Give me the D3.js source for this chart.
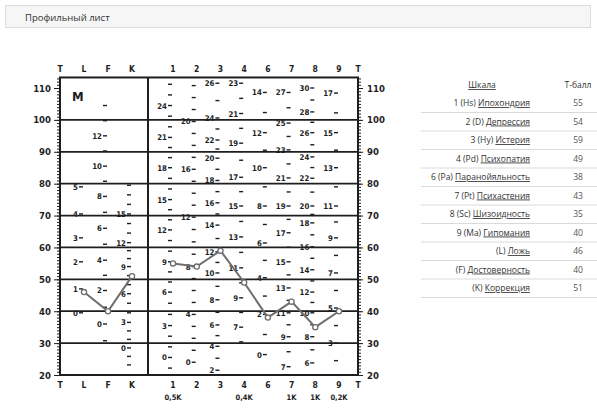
<!DOCTYPE html>
<html><head><meta charset="utf-8">
<script src="https://cdn.jsdelivr.net/npm/d3@7"></script>
<style>body{margin:0;background:#fff;} svg{display:block}</style>
</head><body><svg id="c" width="597" height="411"></svg>
<script>
// ---------- data ----------
const leftCols = ["T","L","F","K"];
const rightCols = ["1","2","3","4","6","7","8","9"];
const tTicks = [110,100,90,80,70,60,50,40,30,20];
const gridLines = [100,90,80,70,60,50,40,30];
const bottomCodes = ["1","4","7","8","9"];
const bottomCorr = ["0,5K","0,4K","1K","1K","0,2K"];
const validityScales = ["L","F","K"];
const validityT = [46,40,51];
const clinicalScales = ["1","2","3","4","6","7","8","9"];
const clinicalT = [55,54,59,49,38,43,35,40];

// raw-score marks per column: [raw, T]
const rawL = [[5,79],[4,70.5],[3,63],[2,55.5],[1,47],[0,39.5]];
const rawF = [[12,95],[10,85.5],[8,76],[6,66],[4,56],[2,46.5],[0,36]];
const rawK = [[15,70.5],[12,61.5],[9,54],[6,45.5],[3,36.5],[0,28.5]];
const raw1 = [[24,104.5],[21,94.5],[18,85],[15,75],[12,65.5],[9,55.5],[6,46],[3,35.5],[0,25.5]];
const raw2 = [[20,99.5],[16,84.5],[12,69.5],[8,54],[4,39],[0,24]];
const raw3 = [[26,111.5],[24,100.6],[22,93.7],[20,88],[18,81],[16,74],[14,67],[12,58.6],[10,52],[8,43.6],[6,35.7],[4,29],[2,21.5]];
const raw4 = [[23,111.5],[21,102],[19,92.7],[17,82],[15,73],[13,63.3],[11,53.6],[9,44.2],[7,35]];
const raw6 = [[14,108.6],[12,96],[10,85],[8,73],[6,61.4],[4,50.5],[2,39],[0,26.4]];
const raw7 = [[27,108.6],[25,99],[23,90.6],[21,81.8],[19,73],[17,64.6],[15,55.5],[13,47.3],[11,39.5],[9,32],[7,22.6]];
const raw8 = [[30,110],[28,102.5],[26,96],[24,88.4],[22,81.7],[20,73],[18,67.7],[16,60.2],[14,53],[12,46],[10,39.5],[8,32],[6,23.8]];
const raw9 = [[17,108.4],[15,96],[13,85],[11,73],[9,63],[7,52],[5,41],[3,30]];

const tableCodes = ["1 (Hs)","2 (D)","3 (Hy)","4 (Pd)","6 (Pa)","7 (Pt)","8 (Sc)","9 (Ma)","(L)","(F)","(K)"];
const tableNames = ["Ипохондрия","Депрессия","Истерия","Психопатия","Паранойяльность","Психастения","Шизоидность","Гипомания","Ложь","Достоверность","Коррекция"];
const tableScores = [55,54,59,49,38,43,35,40,46,40,51];

// ---------- drawing ----------
const svg = d3.select("#c");
const ink = "#1e1e1e";
const hand = "'DejaVu Sans Condensed','DejaVu Sans',sans-serif";
const ui = "'Open Sans','Noto Sans',sans-serif";

// header bar
svg.append("rect").attr("x",5.5).attr("y",5.5).attr("width",585).attr("height",22)
  .attr("fill","#f6f6f6").attr("stroke","#dcdcdc");
svg.append("text").attr("x",25).attr("y",20.5).attr("font-family",ui).attr("font-size",9.5)
  .attr("fill","#333").text("Профильный лист");

const y = d3.scaleLinear().domain([20,110]).range([375,88]);
const xL = d3.scalePoint().domain(leftCols).range([60,132]);
const xR = d3.scalePoint().domain(rightCols).range([173,339]);
const xc = c => leftCols.includes(c) ? xL(c) : xR(c);
const boxL = 60, boxR = 358, boxT = y(113.3), boxB = y(20), divX = 148;

const g = svg.append("g");
g.selectAll(".gl").data(gridLines).join("line")
  .attr("x1",boxL).attr("x2",boxR).attr("y1",d=>y(d)).attr("y2",d=>y(d))
  .attr("stroke",ink).attr("stroke-width",1.8);
g.append("rect").attr("x",boxL).attr("y",boxT).attr("width",boxR-boxL).attr("height",boxB-boxT)
  .attr("fill","none").attr("stroke",ink).attr("stroke-width",2);
g.append("line").attr("x1",divX).attr("x2",divX).attr("y1",boxT).attr("y2",boxB)
  .attr("stroke",ink).attr("stroke-width",2);

// axes
const minorVals = d3.range(20,114,1);
function styleAxis(sel){
  sel.select(".domain").remove();
  sel.selectAll("line").attr("stroke",ink).attr("stroke-width",1);
  sel.selectAll("text").attr("font-family",hand).attr("font-weight","bold").attr("font-size",9.5).attr("fill",ink);
}
svg.append("g").attr("transform",`translate(${boxL},0)`)
  .call(d3.axisLeft(y).tickValues(minorVals).tickSize(3).tickFormat("")).call(styleAxis);
svg.append("g").attr("transform",`translate(${boxL},0)`)
  .call(d3.axisLeft(y).tickValues(tTicks).tickSize(6).tickPadding(3)).call(styleAxis);
svg.append("g").attr("transform",`translate(${boxR},0)`)
  .call(d3.axisRight(y).tickValues(minorVals).tickSize(3).tickFormat("")).call(styleAxis);
svg.append("g").attr("transform",`translate(${boxR},0)`)
  .call(d3.axisRight(y).tickValues(tTicks).tickSize(5).tickPadding(4)).call(styleAxis);

// column headers top & bottom
const colLabels = leftCols.map(c=>({c,x:xL(c)})).concat(rightCols.map(c=>({c,x:xR(c)}))).concat([{c:"T",x:boxR}]);
[72,388].forEach(yy=>{
  svg.append("g").selectAll("text").data(colLabels).join("text")
    .attr("x",d=>d.x).attr("y",yy).attr("text-anchor","middle")
    .attr("font-family",hand).attr("font-weight","bold").attr("font-size",8.5).attr("fill",ink)
    .text(d=>d.c);
});
svg.append("g").selectAll("text").data(bottomCodes).join("text")
  .attr("x",d=>xR(d)).attr("y",400).attr("text-anchor","middle")
  .attr("font-family",hand).attr("font-weight","bold").attr("font-size",7.5).attr("fill",ink)
  .text((d,i)=>bottomCorr[i]);

svg.append("text").attr("x",72).attr("y",101).attr("font-family",hand).attr("font-weight","bold")
  .attr("font-size",13).attr("fill",ink).text("M");

// raw score marks
const rawCols = [["L",rawL,0],["F",rawF,1],["K",rawK,2],["1",raw1,2],["2",raw2,3],["3",raw3,1],
  ["4",raw4,1],["6",raw6,1],["7",raw7,1],["8",raw8,1],["9",raw9,1]];
const rg = svg.append("g");
rawCols.forEach(([c,arr,nMinor])=>{
  const cx = xc(c);
  const minors = [];
  for(let i=0;i<arr.length-1;i++){
    const a=arr[i][1], b=arr[i+1][1];
    for(let k=1;k<=nMinor;k++) minors.push(a+(b-a)*k/(nMinor+1));
  }
  if(nMinor>0){
    const stepTop = (arr[0][1]-arr[1][1])/(nMinor+1);
    for(let k=1;k<=nMinor+1;k++){const t=arr[0][1]+stepTop*k; if(t<112.5) minors.push(t);}
    const n=arr.length, stepBot=(arr[n-2][1]-arr[n-1][1])/(nMinor+1);
    for(let k=1;k<=nMinor;k++){const t=arr[n-1][1]-stepBot*k; if(t>21) minors.push(t);}
  }
  rg.append("g").selectAll("line").data(minors).join("line")
    .attr("x1",cx-5).attr("x2",cx-1).attr("y1",d=>y(d)).attr("y2",d=>y(d))
    .attr("stroke",ink).attr("stroke-width",1.4);
  rg.append("g").selectAll("line").data(arr).join("line")
    .attr("x1",cx-5).attr("x2",cx-1).attr("y1",d=>y(d[1])).attr("y2",d=>y(d[1]))
    .attr("stroke",ink).attr("stroke-width",1.4);
  rg.append("g").selectAll("text").data(arr).join("text")
    .attr("x",cx-6).attr("y",d=>y(d[1])+3).attr("text-anchor","end")
    .attr("font-family",hand).attr("font-weight","bold").attr("font-size",7.8).attr("fill",ink)
    .text(d=>d[0]);
});

// profile lines
const lineGen = d3.line().x(d=>xc(d[0])).y(d=>y(d[1]));
const prof = "#6e6e6e";
[[validityScales,validityT],[clinicalScales,clinicalT]].forEach(([s,v])=>{
  const pts = s.map((c,i)=>[c,v[i]]);
  svg.append("path").datum(pts).attr("d",lineGen).attr("fill","none")
    .attr("stroke",prof).attr("stroke-width",2);
  svg.append("g").selectAll("circle").data(pts).join("circle")
    .attr("cx",d=>xc(d[0])).attr("cy",d=>y(d[1])).attr("r",2.6)
    .attr("fill","#fff").attr("stroke",prof).attr("stroke-width",1.3);
});

// table
const tx0 = 421, tx1 = 597, nameRight = 530, scoreX = 578;
const ty = d3.scaleLinear().domain([0,10]).range([103,288]);
svg.append("text").attr("x",482).attr("y",88).attr("text-anchor","middle")
  .attr("font-family",ui).attr("font-size",8.5).attr("fill","#333")
  .attr("text-decoration","underline").text("Шкала");
svg.append("text").attr("x",scoreX).attr("y",88).attr("text-anchor","middle")
  .attr("font-family",ui).attr("font-size",8.5).attr("fill","#333").text("T-балл");
const rows = svg.append("g").selectAll("g").data(tableCodes).join("g");
rows.append("line").attr("x1",tx0).attr("x2",tx1)
  .attr("y1",(d,i)=>ty(i)+9.5).attr("y2",(d,i)=>ty(i)+9.5)
  .attr("stroke","#dadada").attr("stroke-width",1);
const rt = rows.append("text").attr("x",nameRight).attr("y",(d,i)=>ty(i)+3)
  .attr("text-anchor","end").attr("font-family",ui).attr("font-size",8.5).attr("fill","#333");
rt.append("tspan").text(d=>d+" ");
rt.append("tspan").attr("text-decoration","underline").text((d,i)=>tableNames[i]);
rows.append("text").attr("x",scoreX).attr("y",(d,i)=>ty(i)+3).attr("text-anchor","middle")
  .attr("font-family",ui).attr("font-size",8.5).attr("fill","#555").text((d,i)=>tableScores[i]);
</script></body></html>
